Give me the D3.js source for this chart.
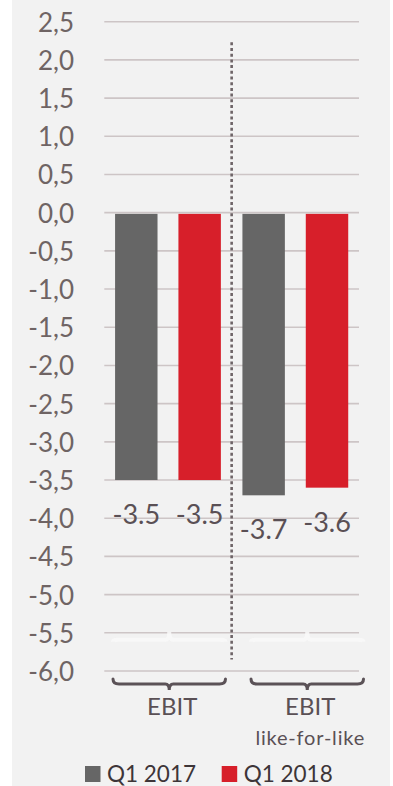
<!DOCTYPE html>
<html><head><meta charset="utf-8">
<script src="https://cdn.jsdelivr.net/npm/d3@7"></script>
<style>html,body{margin:0;padding:0;background:#fff;}svg{display:block;}</style>
</head><body>
<script>
const categories = ["EBIT", "EBIT like-for-like"];
const categoryLines = [["EBIT"], ["EBIT", "like-for-like"]];
const series = ["Q1 2017", "Q1 2018"];
const q1_2017 = [-3.5, -3.7];
const q1_2018 = [-3.5, -3.6];
const valueLabels2017 = ["-3.5", "-3.7"];
const valueLabels2018 = ["-3.5", "-3.6"];
const yTicks = [2.5, 2.0, 1.5, 1.0, 0.5, 0.0, -0.5, -1.0, -1.5, -2.0, -2.5, -3.0, -3.5, -4.0, -4.5, -5.0, -5.5, -6.0];
const separatorExtent = [2.23, -5.85];
const colors = ["#666666", "#d71f2a"];

const W = 393, H = 786;
const svg = d3.select("body").append("svg").attr("width", W).attr("height", H);
svg.append("rect").attr("x", 12).attr("y", 0).attr("width", 378).attr("height", H).attr("fill", "#f2f2f2");

const plotL = 104.3, plotR = 359;
const y = d3.scaleLinear().domain([-6, 2.5]).range([671, 21.7]);
const x0 = d3.scaleBand().domain(categories).range([plotL, plotR]).padding(0);
const x1 = d3.scaleBand().domain(series).range([0, x0.bandwidth()]).paddingInner(0.33).paddingOuter(0.17);
const xb = d3.scaleBand().domain(categories).range([113, 363.5]).paddingInner(0.185);

const fmt = v => d3.format(".1f")(v).replace(".", ",").replace("−", "-");

// gridlines
const grid = svg.append("g");
grid.selectAll("line").data(yTicks).join("line")
  .attr("x1", plotL).attr("x2", plotR)
  .attr("y1", d => y(d)).attr("y2", d => y(d))
  .attr("stroke", "#cdc5c6").attr("stroke-width", 1.6);

// faint ghost braces near -5.5
const ghostY = y(-5.5);
categories.forEach(c => {
  const a = xb(c), b = xb(c) + xb.bandwidth(), m = (a + b) / 2;
  const yy = ghostY + 7;
  svg.append("path")
    .attr("d", `M${a},${yy+2} Q${a},${yy} ${a+5},${yy} L${m-4},${yy} Q${m},${yy} ${m},${yy-8} Q${m},${yy} ${m+4},${yy} L${b-5},${yy} Q${b},${yy} ${b},${yy+2}`)
    .attr("fill", "none").attr("stroke", "#f9f9f9").attr("stroke-width", 4).attr("opacity", 0.85);
});

// y tick labels
svg.append("g").selectAll("text").data(yTicks).join("text")
  .attr("x", 74).attr("y", d => y(d) + 10)
  .attr("text-anchor", "end")
  .attr("font-family", "Lato, 'Open Sans', sans-serif").attr("font-size", 26)
  .attr("fill", "#6f6464")
  .text(d => fmt(d));

// bars
const data = categories.map((c, i) => ({
  cat: c,
  vals: [
    {s: series[0], v: q1_2017[i], lab: valueLabels2017[i], col: colors[0]},
    {s: series[1], v: q1_2018[i], lab: valueLabels2018[i], col: colors[1]}
  ]
}));
const groups = svg.append("g").selectAll("g").data(data).join("g")
  .attr("transform", d => `translate(${x0(d.cat)},0)`);
groups.selectAll("rect").data(d => d.vals).join("rect")
  .attr("x", d => x1(d.s)).attr("width", x1.bandwidth())
  .attr("y", d => y(Math.max(0, d.v)) + 1.2).attr("height", d => Math.abs(y(d.v) - y(0)) - 1.2)
  .attr("fill", d => d.col);
groups.selectAll("text").data(d => d.vals).join("text")
  .attr("x", d => x1(d.s) + x1.bandwidth() / 2)
  .attr("y", d => y(d.v) + 44)
  .attr("text-anchor", "middle")
  .attr("font-family", "Lato, 'Open Sans', sans-serif").attr("font-size", 27)
  .attr("fill", "#5a5055")
  .text(d => d.lab);

// dotted separator
const sepX = x0(categories[1]);
svg.append("line")
  .attr("x1", sepX).attr("x2", sepX)
  .attr("y1", y(separatorExtent[0])).attr("y2", y(separatorExtent[1]))
  .attr("stroke", "#6e6467").attr("stroke-width", 2.6).attr("stroke-dasharray", "3,2.7");

// braces
const braceY = y(-6) + 8;
categories.forEach(c => {
  const a = xb(c), b = xb(c) + xb.bandwidth(), m = (a + b) / 2;
  const yy = braceY + 5;
  svg.append("path")
    .attr("d", `M${a},${braceY} Q${a},${yy} ${a+6},${yy} L${m-4},${yy} Q${m},${yy} ${m},${yy+6} Q${m},${yy} ${m+4},${yy} L${b-6},${yy} Q${b},${yy} ${b},${braceY}`)
    .attr("fill", "none").attr("stroke", "#5b5257").attr("stroke-width", 3).attr("stroke-linecap", "round");
});

// category labels
categories.forEach((c, i) => {
  const cx = xb(c) + xb.bandwidth() / 2 + 3;
  const lines = categoryLines[i];
  svg.append("text").attr("x", cx).attr("y", 715)
    .attr("text-anchor", "middle")
    .attr("font-family", "Lato, 'Open Sans', sans-serif").attr("font-size", 24)
    .attr("fill", "#5a5055").text(lines[0]);
  if (lines[1]) {
    svg.append("text").attr("x", cx).attr("y", 745)
      .attr("text-anchor", "middle")
      .attr("font-family", "Lato, 'Open Sans', sans-serif").attr("font-size", 20)
      .attr("letter-spacing", 0.8)
      .attr("fill", "#5a5055").text(lines[1]);
  }
});

// legend
const legX = [85, 221.7];
series.forEach((s, i) => {
  svg.append("rect").attr("x", legX[i]).attr("y", 766).attr("width", 15.5).attr("height", 16)
    .attr("fill", colors[i]);
  svg.append("text").attr("x", legX[i] + 22).attr("y", 782)
    .attr("font-family", "Lato, 'Open Sans', sans-serif").attr("font-size", 22.5)
    .attr("fill", "#3d3538").text(s);
});
</script>
</body></html>
